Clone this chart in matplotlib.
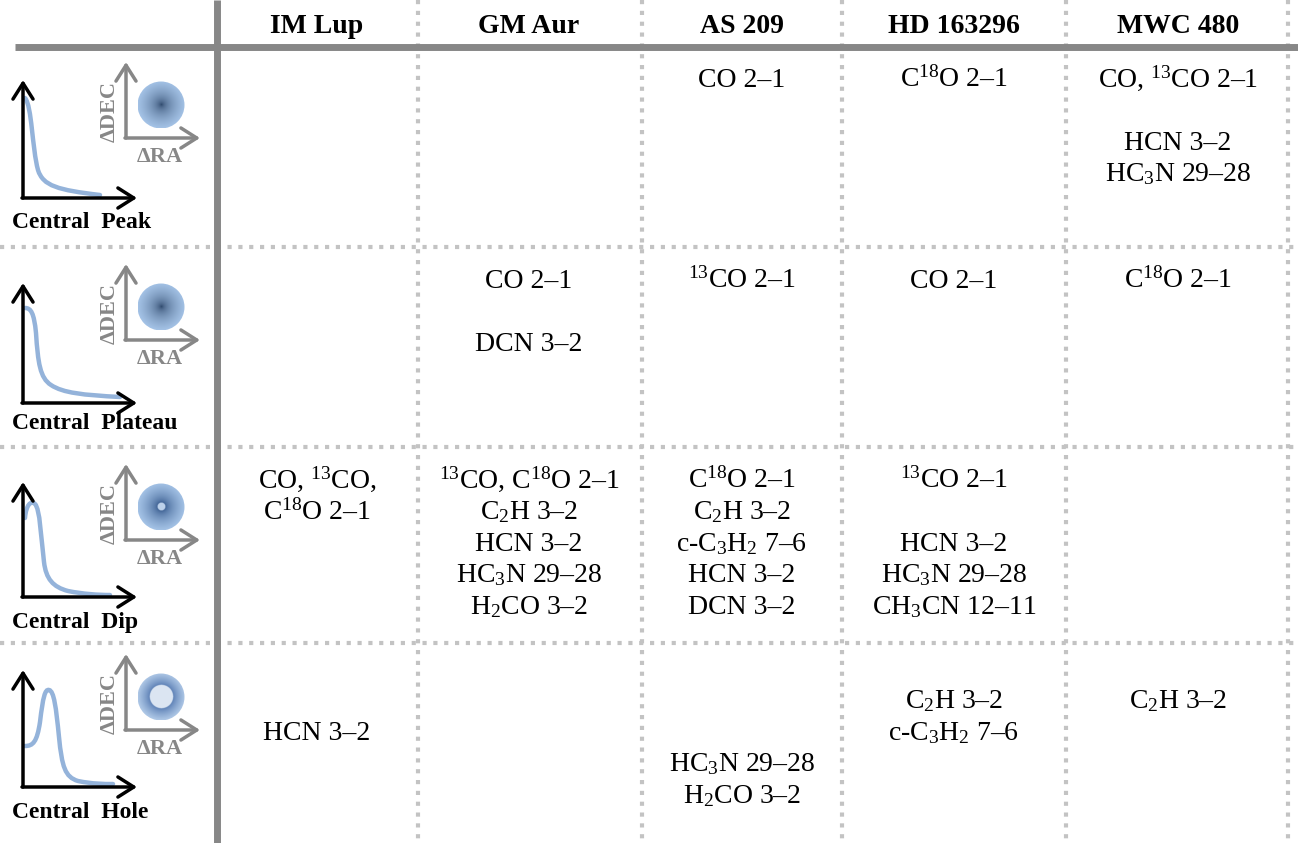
import matplotlib
matplotlib.use("Agg")
import matplotlib.pyplot as plt
import numpy as np
from matplotlib.path import Path
from matplotlib.patches import PathPatch, Circle

plt.rcParams['font.family'] = ['Liberation Serif', 'DejaVu Serif']
plt.rcParams['mathtext.fontset'] = 'custom'
plt.rcParams['mathtext.rm'] = 'Liberation Serif'
plt.rcParams['mathtext.it'] = 'Liberation Serif'
plt.rcParams['mathtext.bf'] = 'Liberation Serif:bold'
plt.rcParams['mathtext.default'] = 'regular'

# ---- table content ----
targets = ["IM Lup", "GM Aur", "AS 209", "HD 163296", "MWC 480"]
profiles = ["Peak", "Plateau", "Dip", "Hole"]

peak_cells = [[], [], ["CO 2–1"], [r"C$^{18}$O 2–1"],
              [r"CO, $^{13}$CO 2–1", "", "HCN 3–2", r"HC$_3$N 29–28"]]
plateau_cells = [[], ["CO 2–1", "", "DCN 3–2"], [r"$^{13}$CO 2–1"], ["CO 2–1"],
                 [r"C$^{18}$O 2–1"]]
dip_cells = [[r"CO, $^{13}$CO,", r"C$^{18}$O 2–1"],
             [r"$^{13}$CO, C$^{18}$O 2–1", r"C$_2$H 3–2", "HCN 3–2",
              r"HC$_3$N 29–28", r"H$_2$CO 3–2"],
             [r"C$^{18}$O 2–1", r"C$_2$H 3–2", r"c-C$_3$H$_2$ 7–6", "HCN 3–2", "DCN 3–2"],
             [r"$^{13}$CO 2–1", "", "HCN 3–2", r"HC$_3$N 29–28", r"CH$_3$CN 12–11"],
             []]
hole_cells = [["", "", "HCN 3–2"], [],
              ["", "", "", r"HC$_3$N 29–28", r"H$_2$CO 3–2"],
              ["", r"C$_2$H 3–2", r"c-C$_3$H$_2$ 7–6"],
              ["", r"C$_2$H 3–2"]]
cells = [peak_cells, plateau_cells, dip_cells, hole_cells]

# ---- layout (pixels) ----
W, H = 1298, 843
col_lines = [418, 642, 842, 1066, 1288]
col_centers = [317, 529, 742, 954, 1178]
row_lines = [247, 447, 643]
first_line = [78, 279, 479, 668]
line_step = 31.5

# icon geometry per row
axis_bottom = [198, 403, 597, 787]
axis_top = [80, 283, 482, 670]
label_y = [222, 423, 622, 812]
gray_bottom = [138, 340, 540, 730]

blue = '#94b3da'
gray = '#878787'
dotc = '#c3c3c3'

fig = plt.figure(figsize=(W / 100, H / 100), dpi=100)
ax = fig.add_axes([0, 0, 1, 1])
ax.set_xlim(0, W)
ax.set_ylim(H, 0)
ax.axis('off')

# grid lines
for x in col_lines:
    ax.plot([x, x], [0, H], color=dotc, lw=3, dashes=(1, 1.6), dash_capstyle='butt')
for y in row_lines:
    ax.plot([0, W], [y, y], color=dotc, lw=3, dashes=(1, 1.6), dash_capstyle='butt')
ax.plot([217, 217], [0, H], color=gray, lw=5, solid_capstyle='butt')
ax.plot([15, W], [46.5, 46.5], color=gray, lw=5, solid_capstyle='butt')

# headers
for name, xc in zip(targets, col_centers):
    ax.text(xc, 33, name, ha='center', va='baseline', fontsize=20, fontweight='bold')

# body text
for r, row in enumerate(cells):
    for c, lines in enumerate(row):
        for k, line in enumerate(lines):
            if not line:
                continue
            yc = first_line[r] + k * line_step
            ax.text(col_centers[c], yc + 9, line, ha='center', va='baseline', fontsize=20)

# profile curves (bezier control points relative to axis origin, dy up)
curves = {
    "Peak": [(2, 100), (9, 92), (9, 50), (15, 28), (20, 12), (35, 8), (77, 3)],
    "Plateau": [(2, 95), (8, 95), (11, 90), (13, 70), (15, 40), (17, 25), (28, 18),
                (40, 10), (60, 8), (97, 6)],
    "Dip": [(2, 79), (3, 92), (8, 97), (12, 93), (17, 88), (18, 60), (21, 35),
            (23, 18), (30, 10), (45, 6), (60, 3), (75, 2), (87, 2)],
    "Hole": [(2, 41), (10, 41), (14, 45), (17, 65), (20, 90), (22, 98), (26, 97),
             (31, 96), (33, 80), (36, 50), (39, 20), (42, 10), (55, 6), (70, 3),
             (80, 3), (90, 3)],
}


def arrow(x0, y0, x1, y1, color):
    ax.annotate('', xy=(x1, y1), xytext=(x0, y0),
                arrowprops=dict(arrowstyle='->,head_length=0.6,head_width=0.38',
                                lw=2.5, color=color, shrinkA=0, shrinkB=0,
                                mutation_scale=19))


def gradient_disc(cx, cy, R, kind):
    n = 240
    g = np.linspace(-R, R, n)
    xx, yy = np.meshgrid(g, g)
    rr = np.sqrt(xx ** 2 + yy ** 2) / R
    dark = np.array([0.11, 0.21, 0.35])
    light = np.array([0.64, 0.76, 0.90])
    img = np.zeros((n, n, 3))
    if kind == "Hole":
        r0 = 0.5
        t = np.clip((rr - r0) / (1 - r0), 0, 1)
        mid = np.array([0.36, 0.50, 0.71])
        f = t ** 0.8
        img[:] = mid * (1 - f[..., None]) + np.array([0.68, 0.78, 0.90]) * f[..., None]
        img[rr < r0] = [0.86, 0.90, 0.95]
    elif kind == "Dip":
        r0 = 0.17
        t = np.clip((rr - r0) / (1 - r0), 0, 1)
        f = t ** 0.6
        start = np.array([0.22, 0.36, 0.56])
        img[:] = start * (1 - f[..., None]) + light * f[..., None]
        img[rr < r0] = [0.74, 0.82, 0.92]
    else:
        f = np.clip(rr, 0, 1) ** 0.45
        img[:] = dark * (1 - f[..., None]) + light * f[..., None]
    im = ax.imshow(img, extent=(cx - R, cx + R, cy + R, cy - R), interpolation='bilinear',
                   zorder=2)
    im.set_clip_path(Circle((cx, cy), R, transform=ax.transData))


for r, prof in enumerate(profiles):
    x0, yb, yt = 23, axis_bottom[r], axis_top[r]
    pts = curves[prof]
    verts = [(x0 + dx, yb - dy) for dx, dy in pts]
    codes = [Path.MOVETO] + [Path.CURVE4] * (len(verts) - 1)
    ax.add_patch(PathPatch(Path(verts, codes), fill=False, edgecolor=blue, lw=3.2,
                           capstyle='round', zorder=2))
    arrow(x0, yb, x0, yt, 'black')
    arrow(x0 - 1, yb, 137, yb, 'black')
    ax.text(12, label_y[r] + 6, "Central  " + prof, ha='left', va='baseline',
            fontsize=17, fontweight='bold')

    gb = gray_bottom[r]
    arrow(126, gb, 126, gb - 76, gray)
    arrow(125, gb, 200, gb, gray)
    ax.text(110, gb - 26, "ΔDEC", rotation=90, ha='center', va='center',
            fontsize=16, fontweight='bold', color=gray)
    ax.text(160, gb + 19, "ΔRA", ha='center', va='center', fontsize=16,
            fontweight='bold', color=gray)
    gradient_disc(161, gb - 33, 23.5, prof)

fig.savefig('out.png', dpi=100)
